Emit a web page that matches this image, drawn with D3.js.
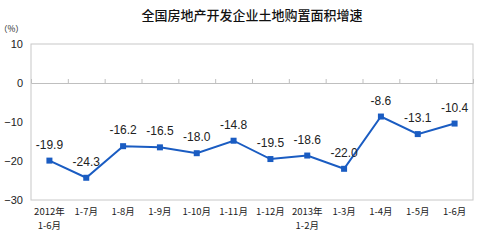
<!DOCTYPE html>
<html><head><meta charset="utf-8">
<script src="https://cdn.jsdelivr.net/npm/d3@7"></script>
<style>body{margin:0;background:#fff}svg{display:block}</style>
</head><body><svg id="c" width="481" height="244"></svg>
<script>
const title = "全国房地产开发企业土地购置面积增速";
const unitLabel = "（%）";
const categories = [["2012年","1-6月"],["1-7月"],["1-8月"],["1-9月"],["1-10月"],["1-11月"],["1-12月"],["2013年","1-2月"],["1-3月"],["1-4月"],["1-5月"],["1-6月"]];
const values = [-19.9,-24.3,-16.2,-16.5,-18.0,-14.8,-19.5,-18.6,-22.0,-8.6,-13.1,-10.4];
const yTicks = [10,0,-10,-20,-30];

const svg = d3.select("#c");
const L=31,R=473,T=44,B=200;
const x = d3.scaleBand().domain(d3.range(categories.length)).range([L,R]);
const y = d3.scaleLinear().domain([-30,10]).range([B,T]);
const color="#1a5cc2";

svg.append("text").attr("x",252).attr("y",20).attr("text-anchor","middle")
  .attr("font-family","Noto Sans CJK SC").attr("font-size",13).attr("font-weight",500).attr("fill","#111").text(title);
svg.append("text").attr("x",-1).attr("y",32).attr("font-family","Noto Sans CJK SC").attr("font-size",8.5).attr("fill","#222").text(unitLabel);

svg.append("rect").attr("x",L).attr("y",T).attr("width",R-L).attr("height",B-T).attr("fill","none").attr("stroke","#c8c8c8");

// y axis labels
const ya = svg.append("g").attr("transform",`translate(${L-8},0)`).call(d3.axisLeft(y).tickValues(yTicks).tickSize(0).tickPadding(0));
ya.select(".domain").remove();
ya.selectAll("text").attr("font-family","Liberation Sans, Arial").attr("font-size",11).attr("fill","#222");

// zero line with ticks
const xa = svg.append("g").attr("transform",`translate(0,${y(0)})`)
  .call(d3.axisTop(d3.scaleLinear().domain([0,categories.length]).range([L,R])).tickValues(d3.range(1,categories.length)).tickSize(4).tickFormat(""));
xa.selectAll("line,path").attr("stroke","#bfbfbf");

// x labels
const xl = svg.append("g");
categories.forEach((c,i)=>{
  const t = xl.append("text").attr("x",x(i)+x.bandwidth()/2).attr("y",215).attr("text-anchor","middle")
    .attr("font-family","Noto Sans CJK SC").attr("font-size",9.5).attr("fill","#222");
  c.forEach((s,j)=>t.append("tspan").attr("x",x(i)+x.bandwidth()/2).attr("dy",j?14:0).text(s));
});

const cx = i=>x(i)+x.bandwidth()/2;
svg.append("path").datum(values).attr("fill","none").attr("stroke",color).attr("stroke-width",2)
  .attr("d",d3.line().x((d,i)=>cx(i)).y(d=>y(d)));
svg.selectAll("rect.m").data(values).join("rect").attr("class","m")
  .attr("x",(d,i)=>cx(i)-3).attr("y",d=>y(d)-3).attr("width",6).attr("height",6).attr("fill",color);
svg.selectAll("text.v").data(values).join("text").attr("class","v")
  .attr("x",(d,i)=>cx(i)).attr("y",d=>y(d)-12).attr("text-anchor","middle")
  .attr("font-family","Liberation Sans, Arial").attr("font-size",12).attr("fill","#222")
  .text(d=>d.toFixed(1));
</script></body></html>
